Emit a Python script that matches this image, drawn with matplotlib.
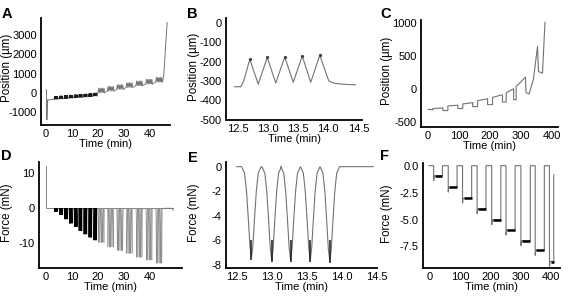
import numpy as np
import matplotlib.pyplot as plt

plt.rcParams['font.family'] = ['Liberation Sans', 'DejaVu Sans']
plt.rcParams['font.size'] = 8
plt.rcParams['axes.unicode_minus'] = False

W, H = 568, 300
LINE = '0.45'

pos_cycle_phase = [0.0, 0.5, 1.0]
pos_cycle_shape = [0.0, 1.0, 0.0]
force_cycle_phase = [0.0, 0.15, 0.25, 0.35, 0.425, 0.5, 0.575, 0.65, 0.75, 0.85, 1.0]
force_cycle_shape = [0.0, 0.07, 0.27, 0.6, 0.87, 1.0, 0.87, 0.6, 0.27, 0.07, 0.0]
n_cycles = 5

# panels A and D: groups of five cycles (min)
group_start = [3.2, 5.1, 7.0, 8.9, 10.8, 12.6, 14.5, 16.4, 18.3,
               20.0, 23.6, 27.2, 30.8, 34.6, 38.4, 42.2]
group_len = [1.4] * 9 + [2.6] * 7
pos_base = [-330, -310, -290, -270, -250, -230, -210, -190, -160,
            0, 90, 180, 280, 370, 460, 560]
pos_amp = [140] * 9 + [240] * 7
force_level = [-1.0, -1.9, -3.1, -4.3, -5.3, -6.4, -7.4, -8.3, -9.1,
               -9.8, -11.1, -12.1, -12.9, -14.0, -14.8, -15.7]
n_early = 9

a_head_t = [0.1, 0.2, 0.35, 0.6, 2.0]
a_head_pos = [150, 150, -1400, -380, -360]
a_tail_t = [45.0, 45.3, 46.0, 46.6]
a_tail_pos = [700, 900, 2400, 3650]

d_head_t = [0.1, 0.1, 0.2, 2.5]
d_head_f = [12.0, 0.0, 0.0, 0.0]
d_tail_t = [45.4, 48.5, 49.0]
d_tail_f = [0.0, 0.0, -0.6]

# panel B: position during one group of five cycles
b_t = [12.45, 12.55, 12.60, 12.70, 12.84, 12.99, 13.13, 13.28, 13.42,
       13.57, 13.71, 13.86, 14.01, 14.10, 14.25, 14.45]
b_pos = [-330, -330, -300, -188, -316, -178, -310, -176, -307,
         -170, -307, -167, -300, -312, -317, -320]

# panel E: force during the same group
e_min_t = [12.71, 13.00, 13.27, 13.55, 13.83]
e_min_f = [-7.4, -7.6, -7.6, -7.6, -7.7]
e_t0, e_t1 = 12.50, 14.45

# panel C: creep holds (min, um)
c_t = [0, 16, 16, 48, 48, 64, 64, 96, 96, 112, 112, 144, 144, 160, 160, 192, 192,
       208, 208, 240, 240, 252, 252, 276, 276, 284, 284, 314, 316, 326, 340, 353,
       356, 369, 377]
c_pos = [-311, -320, -300, -290, -330, -330, -260, -250, -300, -300, -230, -210,
         -270, -270, -180, -150, -240, -240, -130, -90, -200, -200, -60, 0,
         -160, -169, 34, 177, -57, -78, 150, 643, 262, 238, 1010]

# panel F: force holds
f_on = [13, 61, 108, 156, 204, 251, 300, 347, 394]
f_off = [42, 90, 138, 185, 234, 281, 331, 377, 408]
f_level = [-0.95, -2.0, -3.02, -4.0, -5.03, -5.98, -6.97, -7.87, -8.9]
f_start, f_end_level = -2, -0.86


def groups(start, length, base, amp, phase, shape):
    out = []
    for s, L, b, a in zip(start, length, base, amp):
        per = L / n_cycles
        t, v = [], []
        for k in range(n_cycles):
            t.extend(s + k * per + np.array(phase) * per)
            v.extend(b + a * np.array(shape))
        out.append((t, v))
    return out


def add_axes(fig, l, t, r, b, ylab_x, ylabel, ylab_y=0.52):
    ax = fig.add_axes([l / W, 1 - b / H, (r - l) / W, (b - t) / H])
    for s in ['top', 'right']:
        ax.spines[s].set_visible(False)
    for s in ['left', 'bottom']:
        ax.spines[s].set_linewidth(1.3)
    ax.tick_params(length=0, pad=3, labelsize=8)
    ax.set_xlabel('Time (min)', labelpad=0, fontsize=8)
    ax.set_ylabel(ylabel, fontsize=8.3)
    # ylabel anchor is the right edge of the rotated text
    ax.yaxis.set_label_coords((ylab_x - l) / (r - l), ylab_y)
    return ax


fig = plt.figure(figsize=(W / 100, H / 100), dpi=100)

# A
ax = add_axes(fig, 41, 18, 170, 125, 13.1, 'Position (µm)', 0.53)
grp = groups(group_start, group_len, pos_base, pos_amp, pos_cycle_phase, pos_cycle_shape)
ax.plot(a_head_t + [group_start[0]], a_head_pos + [pos_base[0]], color=LINE, lw=0.7)
for i, (gt, gv) in enumerate(grp):
    col = '0.1' if i < n_early else LINE
    ax.plot(gt, gv, color=col, lw=0.6)
    if i + 1 < len(grp):
        ax.plot([gt[-1], grp[i + 1][0][0]], [gv[-1], grp[i + 1][1][0]], color=LINE, lw=0.6)
ax.plot([grp[-1][0][-1]] + a_tail_t, [grp[-1][1][-1]] + a_tail_pos, color=LINE, lw=0.7)
ax.set_xlim(-1.9, 47.7)
ax.set_ylim(-1680, 3890)
ax.set_xticks([0, 10, 20, 30, 40])
ax.set_yticks([-1000, 0, 1000, 2000, 3000])

# B
ax = add_axes(fig, 226, 18, 362, 119.5, 200.3, 'Position (µm)')
ax.plot(b_t, b_pos, color=LINE, lw=0.8)
ax.plot(b_t[3:12:2], b_pos[3:12:2], 'o', color='0.25', ms=1.3)
ax.set_xlim(12.306, 14.56)
ax.set_ylim(-500, 27)
ax.set_xticks([12.5, 13.0, 13.5, 14.0, 14.5])
ax.set_xticklabels(['12.5', '13.0', '13.5', '14.0', '14.5'])
ax.set_yticks([0, -100, -200, -300, -400, -500])

# C
ax = add_axes(fig, 421, 20, 558, 127, 393, 'Position (µm)')
ax.plot(c_t, c_pos, color=LINE, lw=0.8)
ax.set_xlim(-22.6, 419)
ax.set_ylim(-580, 1045)
ax.set_xticks([0, 100, 200, 300, 400])
ax.set_yticks([-500, 0, 500, 1000])

# D
ax = add_axes(fig, 39, 162, 182, 268, 13.1, 'Force (mN)')
grp = groups(group_start, group_len, [0] * len(force_level), force_level,
             force_cycle_phase, force_cycle_shape)
ax.plot(d_head_t + [d_tail_t[-1]], d_head_f + [0.0], color=LINE, lw=0.6)
ax.plot(d_tail_t, d_tail_f, color=LINE, lw=0.6)
for i, (gt, gv) in enumerate(grp):
    col = 'black' if i < n_early else '0.55'
    ax.plot(gt, gv, color=col, lw=0.4)
ax.set_xlim(-2.6, 52.3)
ax.set_ylim(-17.06, 13.2)
ax.set_xticks([0, 10, 20, 30, 40])
ax.set_yticks([-10, 0, 10])

# E
ax = add_axes(fig, 226, 162, 377, 268, 200.3, 'Force (mN)')
per = 0.28
et, ev = [e_t0], [0.0]
for tm, fm in zip(e_min_t, e_min_f):
    et.extend(tm - per / 2 + np.array(force_cycle_phase) * per)
    ev.extend(fm * np.array(force_cycle_shape))
et.append(e_t1)
ev.append(0.0)
ax.plot(et, ev, color=LINE, lw=0.8)
ax.vlines(e_min_t, -6.0, np.array(e_min_f) - 0.15, color='0.1', lw=1.1)
ax.set_xlim(12.347, 14.504)
ax.set_ylim(-8.24, 0.38)
ax.set_xticks([12.5, 13.0, 13.5, 14.0, 14.5])
ax.set_xticklabels(['12.5', '13.0', '13.5', '14.0', '14.5'])
ax.set_yticks([0, -2, -4, -6, -8])

# F
ax = add_axes(fig, 423, 163, 560, 268, 393, 'Force (mN)')
ft, fv = [f_start], [0.0]
for on, off, lv in zip(f_on, f_off, f_level):
    ft += [on, on, on + 2, off, off]
    fv += [0.0, lv - 0.45, lv, lv, 0.0]
ft[-1] = f_off[-1]
fv[-1] = f_end_level
ax.plot(ft, fv, color=LINE, lw=0.8)
ax.hlines(f_level, np.array(f_on) + 4, f_off, color='black', lw=1.8)
ax.set_xlim(-22, 428.6)
ax.set_ylim(-9.5, 0.25)
ax.set_xticks([0, 100, 200, 300, 400])
ax.set_yticks([0.0, -2.5, -5.0, -7.5])
ax.set_yticklabels(['0.0', '-2.5', '-5.0', '-7.5'])

for letter, x, y in [('A', 2, 18), ('B', 187, 18), ('C', 380, 18),
                     ('D', 1, 160), ('E', 188, 162), ('F', 380, 160)]:
    fig.text(x / W, 1 - y / H, letter, fontsize=10.5, fontweight='bold')

fig.savefig('out.png', dpi=100)
